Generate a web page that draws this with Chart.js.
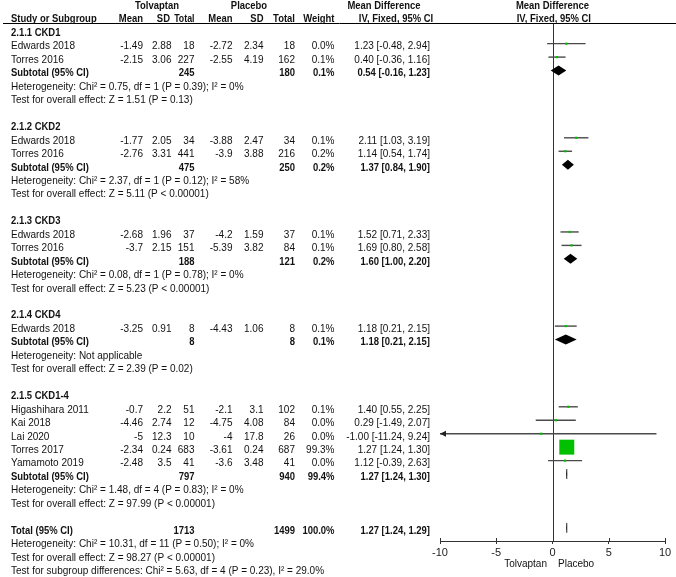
<!DOCTYPE html>
<html><head><meta charset="utf-8">
<style>html,body{margin:0;padding:0;background:#fff;}#wrap{width:676px;height:577px;position:relative;}</style>
<script src="https://cdn.jsdelivr.net/npm/chart.js@4.4.0/dist/chart.umd.min.js"></script>
</head><body><div id="wrap"><canvas id="c" width="676" height="577" style="width:676px;height:577px"></canvas></div>
<script>
// ---------- data ----------
const groupTitles = ['2.1.1 CKD1', '2.1.2 CKD2', '2.1.3 CKD3', '2.1.4 CKD4', '2.1.5 CKD1-4'];
const studyNames = ['Edwards 2018', 'Torres 2016', 'Edwards 2018', 'Torres 2016', 'Edwards 2018', 'Torres 2016', 'Edwards 2018',
  'Higashihara 2011', 'Kai 2018', 'Lai 2020', 'Torres 2017', 'Yamamoto 2019'];
const studyGroup = [0, 0, 1, 1, 2, 2, 3, 4, 4, 4, 4, 4];
const tolMean = [-1.49, -2.15, -1.77, -2.76, -2.68, -3.7, -3.25, -0.7, -4.46, -5, -2.34, -2.48];
const tolSD = ['2.88', '3.06', '2.05', '3.31', '1.96', '2.15', '0.91', '2.2', '2.74', '12.3', '0.24', '3.5'];
const tolN = [18, 227, 34, 441, 37, 151, 8, 51, 12, 10, 683, 41];
const plaMean = [-2.72, -2.55, -3.88, -3.9, -4.2, -5.39, -4.43, -2.1, -4.75, -4, -3.61, -3.6];
const plaSD = ['2.34', '4.19', '2.47', '3.88', '1.59', '3.82', '1.06', '3.1', '4.08', '17.8', '0.24', '3.48'];
const plaN = [18, 162, 34, 216, 37, 84, 8, 102, 84, 26, 687, 41];
const studyWeight = [0.0, 0.1, 0.1, 0.2, 0.1, 0.1, 0.1, 0.1, 0.0, 0.0, 99.3, 0.0];
const studyMD = [1.23, 0.40, 2.11, 1.14, 1.52, 1.69, 1.18, 1.40, 0.29, -1.00, 1.27, 1.12];
const studyLo = [-0.48, -0.36, 1.03, 0.54, 0.71, 0.80, 0.21, 0.55, -1.49, -11.24, 1.24, -0.39];
const studyHi = [2.94, 1.16, 3.19, 1.74, 2.33, 2.58, 2.15, 2.25, 2.07, 9.24, 1.30, 2.63];

const subTolN = [245, 475, 188, 8, 797];
const subPlaN = [180, 250, 121, 8, 940];
const subWeight = [0.1, 0.2, 0.2, 0.1, 99.4];
const subMD = [0.54, 1.37, 1.60, 1.18, 1.27];
const subLo = [-0.16, 0.84, 1.00, 0.21, 1.24];
const subHi = [1.23, 1.90, 2.20, 2.15, 1.30];
const subHet = [
  'Heterogeneity: Chi\u00B2 = 0.75, df = 1 (P = 0.39); I\u00B2 = 0%',
  'Heterogeneity: Chi\u00B2 = 2.37, df = 1 (P = 0.12); I\u00B2 = 58%',
  'Heterogeneity: Chi\u00B2 = 0.08, df = 1 (P = 0.78); I\u00B2 = 0%',
  'Heterogeneity: Not applicable',
  'Heterogeneity: Chi\u00B2 = 1.48, df = 4 (P = 0.83); I\u00B2 = 0%'];
const subEffect = [
  'Test for overall effect: Z = 1.51 (P = 0.13)',
  'Test for overall effect: Z = 5.11 (P < 0.00001)',
  'Test for overall effect: Z = 5.23 (P < 0.00001)',
  'Test for overall effect: Z = 2.39 (P = 0.02)',
  'Test for overall effect: Z = 97.99 (P < 0.00001)'];

const totalTolN = 1713, totalPlaN = 1499, totalWeight = 100.0;
const totalMD = 1.27, totalLo = 1.24, totalHi = 1.29;
const totalLines = [
  'Heterogeneity: Chi\u00B2 = 10.31, df = 11 (P = 0.50); I\u00B2 = 0%',
  'Test for overall effect: Z = 98.27 (P < 0.00001)',
  'Test for subgroup differences: Chi\u00B2 = 5.63, df = 4 (P = 0.23), I\u00B2 = 29.0%'];

const xTickValues = [-10, -5, 0, 5, 10];
const favourLeft = 'Tolvaptan', favourRight = 'Placebo';

// ---------- row layout (row index k) ----------
let k = 0;
const groupRowK = [], studyRowK = [], subRowK = [], hetRowK = [], effRowK = [];
groupTitles.forEach((g, gi) => {
  groupRowK.push(k++);
  studyGroup.forEach((sg, si) => { if (sg === gi) studyRowK[si] = k++; });
  subRowK.push(k++); hetRowK.push(k++); effRowK.push(k++); k++;
});
const totalRowK = k;

// ---------- styling ----------
const FONT = '"Liberation Sans", Arial, sans-serif';
const TXT = '#111';
const TEXT_DY = 2.8;
const FSIZE = 11, HSCALE = 0.91, HEAD_HSCALE = 0.86;
const COL = { label: 11, tolMean: 143, tolSD: 171.5, tolN: 194.5, plaMean: 232.5, plaSD: 263.5, plaN: 295, weight: 334.5, ci: 430 };

function ciText(m, l, h) { return m.toFixed(2) + ' [' + l.toFixed(2) + ', ' + h.toFixed(2) + ']'; }
function squareSide(w) { return Math.max(2.2, 1.5 * Math.sqrt(w)); }

const forestPlugin = {
  id: 'forest',
  beforeDatasetsDraw(chart) {
    const { ctx, scales: { x, y }, chartArea } = chart;
    ctx.save();
    const x0 = Math.round(x.getPixelForValue(0)) + 0.5;
    ctx.strokeStyle = '#333'; ctx.lineWidth = 1;
    ctx.beginPath(); ctx.moveTo(x0, chartArea.top); ctx.lineTo(x0, chartArea.bottom); ctx.stroke();
    xTickValues.forEach(v => {
      const px = Math.round(x.getPixelForValue(v)) + 0.5;
      ctx.beginPath(); ctx.moveTo(px, chartArea.bottom - 3); ctx.lineTo(px, chartArea.bottom); ctx.stroke();
    });
    ctx.strokeStyle = '#4a4a4a'; ctx.fillStyle = '#222'; ctx.lineWidth = 1.4;
    studyMD.forEach((m, i) => {
      const yy = y.getPixelForValue(studyRowK[i]);
      const lo = Math.max(studyLo[i], x.min), hi = Math.min(studyHi[i], x.max);
      const xl = x.getPixelForValue(lo), xr = x.getPixelForValue(hi);
      ctx.beginPath(); ctx.moveTo(xl, yy); ctx.lineTo(xr, yy); ctx.stroke();
      if (studyLo[i] < x.min) {
        ctx.beginPath(); ctx.moveTo(xl, yy); ctx.lineTo(xl + 6, yy - 3); ctx.lineTo(xl + 6, yy + 3); ctx.closePath(); ctx.fill();
      }
      if (studyHi[i] > x.max) {
        ctx.beginPath(); ctx.moveTo(xr, yy); ctx.lineTo(xr - 6, yy - 3); ctx.lineTo(xr - 6, yy + 3); ctx.closePath(); ctx.fill();
      }
    });
    ctx.fillStyle = '#000';
    const diamond = (m, l, h, row) => {
      const yy = y.getPixelForValue(row);
      const xl = x.getPixelForValue(l), xr = x.getPixelForValue(h), xm = x.getPixelForValue(m);
      ctx.beginPath(); ctx.moveTo(xl, yy); ctx.lineTo(xm, yy - 5); ctx.lineTo(xr, yy); ctx.lineTo(xm, yy + 5); ctx.closePath(); ctx.fill();
      if (xr - xl < 2) { ctx.strokeStyle = '#000'; ctx.lineWidth = 0.8; ctx.beginPath(); ctx.moveTo(xm, yy - 5); ctx.lineTo(xm, yy + 5); ctx.stroke(); }
    };
    subMD.forEach((m, i) => diamond(m, subLo[i], subHi[i], subRowK[i]));
    diamond(totalMD, totalLo, totalHi, totalRowK);
    ctx.restore();
  },
  afterDraw(chart) {
    const { ctx, scales: { x, y }, chartArea } = chart;
    const rowY = r => y.getPixelForValue(r) + TEXT_DY;
    ctx.save();
    ctx.fillStyle = TXT; ctx.textBaseline = 'middle';
    const t = (s, px, py, align, bold, sx) => {
      ctx.save();
      ctx.font = (bold ? 'bold ' : '') + FSIZE + 'px ' + FONT;
      ctx.textAlign = align;
      ctx.translate(px, py); ctx.scale(sx || HSCALE, 1);
      ctx.fillText(String(s), 0, 0);
      ctx.restore();
    };
    ctx.strokeStyle = '#000'; ctx.lineWidth = 1;
    const hl = Math.round(chartArea.top) + 0.5;
    ctx.beginPath(); ctx.moveTo(3, hl); ctx.lineTo(676, hl); ctx.stroke();
    const h1 = rowY(-2), h2 = rowY(-1) - 1;
    const H = HEAD_HSCALE;
    t('Tolvaptan', 157, h1, 'center', true, H);
    t('Placebo', 249, h1, 'center', true, H);
    t('Mean Difference', 384, h1, 'center', true, H);
    t('Mean Difference', 552.5, h1, 'center', true, H);
    t('Study or Subgroup', COL.label, h2, 'left', true, H);
    t('Mean', COL.tolMean, h2, 'right', true, H);
    t('SD', COL.tolSD - 1.5, h2, 'right', true, H);
    t('Total', COL.tolN, h2, 'right', true, 0.8);
    t('Mean', COL.plaMean, h2, 'right', true, H);
    t('SD', COL.plaSD, h2, 'right', true, H);
    t('Total', COL.plaN, h2, 'right', true, H);
    t('Weight', COL.weight, h2, 'right', true, H);
    t('IV, Fixed, 95% CI', 396, h2, 'center', true, H);
    t('IV, Fixed, 95% CI', 553.8, h2, 'center', true, H);
    groupTitles.forEach((g, gi) => {
      t(g, COL.label, rowY(groupRowK[gi]), 'left', true, H);
      const sy = rowY(subRowK[gi]);
      t('Subtotal (95% CI)', COL.label, sy, 'left', true, H);
      t(subTolN[gi], COL.tolN, sy, 'right', true, H);
      t(subPlaN[gi], COL.plaN, sy, 'right', true, H);
      t(subWeight[gi].toFixed(1) + '%', COL.weight, sy, 'right', true, H);
      t(ciText(subMD[gi], subLo[gi], subHi[gi]), COL.ci, sy, 'right', true, H);
      t(subHet[gi], COL.label, rowY(hetRowK[gi]), 'left', false);
      t(subEffect[gi], COL.label, rowY(effRowK[gi]), 'left', false);
    });
    studyNames.forEach((n, i) => {
      const sy = rowY(studyRowK[i]);
      t(n, COL.label, sy, 'left', false);
      t(tolMean[i], COL.tolMean, sy, 'right', false);
      t(tolSD[i], COL.tolSD, sy, 'right', false);
      t(tolN[i], COL.tolN, sy, 'right', false);
      t(plaMean[i], COL.plaMean, sy, 'right', false);
      t(plaSD[i], COL.plaSD, sy, 'right', false);
      t(plaN[i], COL.plaN, sy, 'right', false);
      t(studyWeight[i].toFixed(1) + '%', COL.weight, sy, 'right', false);
      t(ciText(studyMD[i], studyLo[i], studyHi[i]), COL.ci, sy, 'right', false);
    });
    const ty = rowY(totalRowK);
    t('Total (95% CI)', COL.label, ty, 'left', true, H);
    t(totalTolN, COL.tolN, ty, 'right', true, H);
    t(totalPlaN, COL.plaN, ty, 'right', true, H);
    t(totalWeight.toFixed(1) + '%', COL.weight, ty, 'right', true, H);
    t(ciText(totalMD, totalLo, totalHi), COL.ci, ty, 'right', true, H);
    totalLines.forEach((s, i) => t(s, COL.label, rowY(totalRowK + 1 + i), 'left', false));
    const x0 = x.getPixelForValue(0);
    t(favourLeft, x0 - 5.5, 563.5, 'right', false);
    t(favourRight, x0 + 5.5, 563.5, 'left', false);
    ctx.restore();
  }
};

const pts = studyMD.map((m, i) => ({ x: m, y: studyRowK[i] }));
new Chart(document.getElementById('c'), {
  type: 'scatter',
  data: {
    datasets: [{
      data: pts,
      pointStyle: 'rect',
      pointRadius: studyWeight.map(w => squareSide(w) / Math.SQRT2),
      pointBackgroundColor: '#00c000',
      pointBorderWidth: 0,
      pointBorderColor: '#00c000',
      showLine: false
    }]
  },
  options: {
    responsive: false,
    animation: false,
    events: [],
    layout: { padding: { left: 440, right: 11, top: 23, bottom: 0 } },
    plugins: { legend: { display: false }, tooltip: { enabled: false } },
    scales: {
      x: {
        type: 'linear', min: -10, max: 10,
        afterBuildTicks: s => { s.ticks = xTickValues.map(v => ({ value: v })); },
        afterFit: s => { s.height = 36; },
        grid: { drawOnChartArea: false, drawTicks: true, tickLength: 3, color: '#333', lineWidth: 1 },
        border: { display: true, color: '#333', width: 1 },
        ticks: { padding: 2, color: '#222', font: { family: FONT, size: 11 }, maxRotation: 0, autoSkip: false }
      },
      y: {
        type: 'linear', display: false, reverse: true,
        min: (23 - 30.2) / 13.45, max: (541 - 30.2) / 13.45
      }
    }
  },
  plugins: [forestPlugin]
});
</script></body></html>
